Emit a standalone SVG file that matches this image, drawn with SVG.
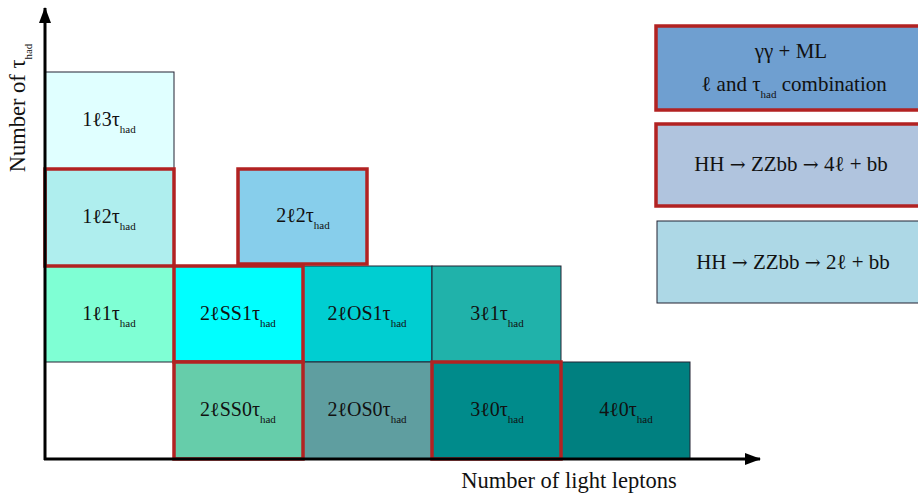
<svg xmlns="http://www.w3.org/2000/svg" width="918" height="495" viewBox="0 0 918 495">
<style>
text{font-family:"Liberation Serif","DejaVu Serif",serif;font-size:20px;fill:#111;}
.sub{font-size:11px;}
.thin{stroke:#223;stroke-width:1;}
.red{stroke:#b22222;stroke-width:3.5;}
.lab{text-anchor:middle;}
.leg{font-size:21px;}
.arr{font-family:"DejaVu Serif",serif;font-size:19px;}
.ax{font-size:22.5px;}
</style>
<defs>
<marker id="ah2" viewBox="0 0 16 12" refX="15" refY="6" markerWidth="16" markerHeight="12" markerUnits="userSpaceOnUse" orient="auto"><path d="M0,0 L16,6 L0,12 z" fill="#000"/></marker>
</defs>
<g id="c1l3t"><rect x="45" y="72" width="129" height="97" fill="#e0ffff" class="thin"/><text x="109" y="126" class="lab">1ℓ3τ<tspan class="sub" dy="7">had</tspan></text></g>
<g id="c1l1t"><rect x="45" y="266" width="129" height="96" fill="#7fffd4" class="thin"/><text x="109" y="320" class="lab">1ℓ1τ<tspan class="sub" dy="7">had</tspan></text></g>
<g id="c2lOS1t"><rect x="303" y="266" width="129" height="96" fill="#00ced1" class="thin"/><text x="367" y="320" class="lab">2ℓOS1τ<tspan class="sub" dy="7">had</tspan></text></g>
<g id="c3l1t"><rect x="432" y="266" width="129" height="96" fill="#20b2aa" class="thin"/><text x="497" y="320" class="lab">3ℓ1τ<tspan class="sub" dy="7">had</tspan></text></g>
<g id="c2lOS0t"><rect x="303" y="362" width="129" height="97" fill="#5f9ea0" class="thin"/><text x="367" y="416" class="lab">2ℓOS0τ<tspan class="sub" dy="7">had</tspan></text></g>
<g id="c4l0t"><rect x="561" y="362" width="129" height="97" fill="#008080" class="thin"/><text x="626" y="416" class="lab">4ℓ0τ<tspan class="sub" dy="7">had</tspan></text></g>
<g id="c1l2t"><rect x="45" y="169" width="129" height="97" fill="#afeeee" class="red"/><text x="109" y="223" class="lab">1ℓ2τ<tspan class="sub" dy="7">had</tspan></text></g>
<g id="c2l2t"><rect x="238" y="169" width="129" height="95" fill="#87ceeb" class="red"/><text x="303" y="222" class="lab">2ℓ2τ<tspan class="sub" dy="7">had</tspan></text></g>
<g id="c2lSS1t"><rect x="174" y="266" width="129" height="96" fill="#00ffff" class="red"/><text x="238" y="320" class="lab">2ℓSS1τ<tspan class="sub" dy="7">had</tspan></text></g>
<g id="c2lSS0t"><rect x="174" y="362" width="129" height="97" fill="#66cdaa" class="red"/><text x="238" y="416" class="lab">2ℓSS0τ<tspan class="sub" dy="7">had</tspan></text></g>
<g id="c3l0t"><rect x="432" y="362" width="129" height="97" fill="#008b8b" class="red"/><text x="497" y="416" class="lab">3ℓ0τ<tspan class="sub" dy="7">had</tspan></text></g>
<g id="leg1"><rect x="656" y="26" width="266" height="84" fill="#6f9fd0" class="red"/><text x="791" y="58" class="lab leg">γγ + ML</text><text x="794" y="91" class="lab leg">ℓ and  τ<tspan class="sub" dy="7">had</tspan><tspan dy="-7"> combination</tspan></text></g>
<g id="leg2"><rect x="656" y="124" width="266" height="82" fill="#b0c4de" class="red"/><text x="791" y="171" class="lab leg">HH <tspan class="arr">→</tspan> ZZbb <tspan class="arr">→</tspan> 4ℓ + bb</text></g>
<g id="leg3"><rect x="657" y="221" width="265" height="82" fill="#add8e6" class="thin"/><text x="793" y="269" class="lab leg">HH <tspan class="arr">→</tspan> ZZbb <tspan class="arr">→</tspan> 2ℓ + bb</text></g>
<g id="axes">
<line x1="45" y1="460" x2="45" y2="8" stroke="#000" stroke-width="3" marker-end="url(#ah2)"/>
<line x1="44" y1="459" x2="760" y2="459" stroke="#000" stroke-width="3" marker-end="url(#ah2)"/>
</g>
<text x="569" y="488" class="lab ax">Number of light leptons</text>
<text transform="translate(25,108) rotate(-90)" class="lab ax">Number of τ<tspan class="sub" dy="7">had</tspan></text>
</svg>
